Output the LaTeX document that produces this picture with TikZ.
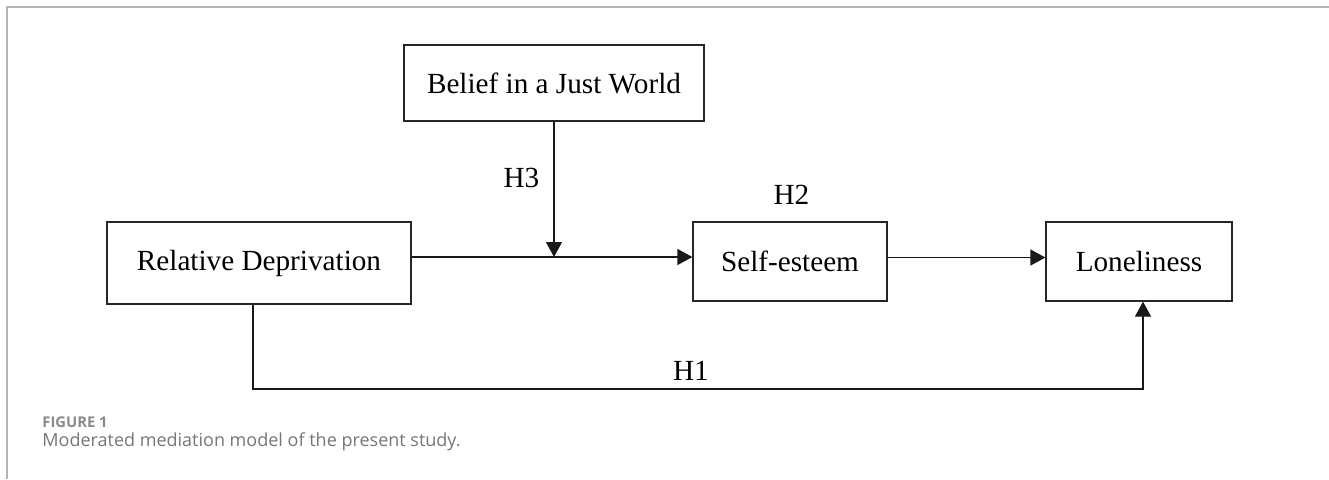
\documentclass[tikz,border=0pt]{standalone}
\usepackage{fontspec}
\setmainfont{Liberation Serif}
\newfontfamily\capfont{Open Sans}
\usepackage{tikz}
\usetikzlibrary{arrows.meta,positioning,calc}
\usepackage{xcolor}
\definecolor{framegray}{HTML}{B4B4B4}
\definecolor{capgray}{HTML}{767676}

\begin{document}
\begin{tikzpicture}[
x=0.5pt,y=-0.5pt,
box/.style={rectangle, draw=black!85, line width=0.6pt, inner sep=0pt, font=\fontsize{14.6}{17}\selectfont},
arr/.style={draw=black!90, line width=0.6pt, -{Triangle[length=7.5pt,width=8pt]}},
lbl/.style={inner sep=0pt, font=\fontsize{14.6}{17}\selectfont}
]
\useasboundingbox (0,0) rectangle (1329,479);
% frame
\draw[framegray, line width=0.8pt] (7,479) -- (7,7) -- (1329,7);
% boxes
\node[box, minimum width=152pt, minimum height=41pt] (rd) at (259,263) {Relative Deprivation};
\node[box, minimum width=150pt, minimum height=38pt] (bjw) at (554,83) {Belief in a Just World};
\node[box, minimum width=97pt, minimum height=39.5pt] (se) at (790,261.5) {Self-esteem};
\node[box, minimum width=93pt, minimum height=39.5pt] (lon) at (1139,261.5) {Loneliness};
% helper points
\coordinate (mod) at (554,257);
\coordinate (h1l) at (253,389);
\coordinate (h1r) at (1143,389);
% paths
\draw[arr] (rd.east |- mod) -- (se.west |- mod);
\draw[arr] (bjw.south) -- (mod);
\draw[arr] ([yshift=2pt]se.east) -- ([yshift=2pt]lon.west);
\draw[arr] (rd.south -| h1l) -- (h1l) -- (h1r) -- (lon.south -| h1r);
% labels
\node[lbl] (h3) at (521.5,178) {H3};
\node[lbl] (h2) at (791.5,195) {H2};
\node[lbl] (h1) at (691,371) {H1};
% caption
\node[anchor=base west, inner sep=0pt, text=capgray!85, font=\capfont\bfseries\fontsize{7.4}{9}\selectfont] (fig) at (42,427) {FIGURE 1};
\node[anchor=base west, inner sep=0pt, text=capgray, font=\capfont\fontsize{9}{11}\selectfont] (cap) at (42,446.5) {Moderated mediation model of the present study.};
\end{tikzpicture}
\end{document}
